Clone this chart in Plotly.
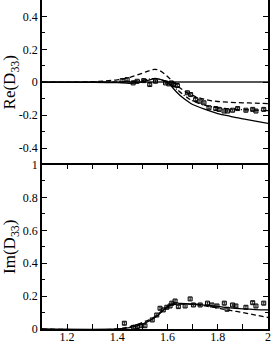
import plotly.graph_objects as go
from plotly.subplots import make_subplots

# ---- Top panel: Re(D33) ----
re_solid_x = [1.10, 1.30, 1.40, 1.45, 1.50, 1.53, 1.55, 1.57, 1.60, 1.63, 1.65, 1.68, 1.70, 1.75, 1.80, 1.85, 1.90, 1.95, 2.00]
re_solid_y = [0.0, 0.0, -0.002, -0.006, 0.002, 0.015, 0.024, 0.018, 0.0, -0.05, -0.08, -0.115, -0.135, -0.165, -0.19, -0.207, -0.222, -0.236, -0.25]

re_dash_x = [1.10, 1.30, 1.40, 1.45, 1.50, 1.53, 1.55, 1.57, 1.60, 1.63, 1.65, 1.68, 1.70, 1.75, 1.80, 1.85, 1.90, 1.95, 2.00]
re_dash_y = [0.0, 0.003, 0.015, 0.03, 0.055, 0.072, 0.078, 0.07, 0.035, -0.01, -0.035, -0.065, -0.08, -0.105, -0.117, -0.122, -0.125, -0.127, -0.13]

re_dd_x = [1.10, 1.30, 1.40, 1.45, 1.50, 1.53, 1.55, 1.57, 1.60, 1.63, 1.65, 1.68, 1.70, 1.75, 1.80, 1.85, 1.90, 1.95, 2.00]
re_dd_y = [0.0, 0.0, 0.002, 0.005, 0.012, 0.02, 0.022, 0.015, 0.002, -0.035, -0.06, -0.095, -0.113, -0.14, -0.155, -0.162, -0.167, -0.17, -0.172]

re_dat_x = [1.419, 1.439, 1.463, 1.479, 1.505, 1.529, 1.552, 1.592, 1.605, 1.615, 1.625, 1.639, 1.679, 1.692, 1.712, 1.729, 1.745, 1.765, 1.792, 1.805, 1.825, 1.839, 1.859, 1.879, 1.912, 1.939, 1.952, 1.983]
re_dat_y = [0.01, 0.016, -0.004, 0.006, 0.01, -0.014, 0.006, -0.004, -0.01, -0.004, -0.014, -0.02, -0.064, -0.075, -0.105, -0.115, -0.125, -0.155, -0.16, -0.165, -0.175, -0.175, -0.17, -0.16, -0.17, -0.165, -0.175, -0.165]
re_dat_err = [0.006] * 28

# ---- Bottom panel: Im(D33) ----
im_solid_x = [1.10, 1.40, 1.45, 1.50, 1.55, 1.58, 1.60, 1.63, 1.65, 1.70, 1.75, 1.80, 1.85, 1.90, 1.95, 2.00]
im_solid_y = [0.0, 0.0, 0.008, 0.03, 0.07, 0.11, 0.135, 0.158, 0.155, 0.152, 0.145, 0.137, 0.128, 0.122, 0.118, 0.116]

im_dash_x = [1.10, 1.40, 1.45, 1.50, 1.55, 1.58, 1.60, 1.63, 1.65, 1.70, 1.75, 1.80, 1.85, 1.90, 1.95, 2.00]
im_dash_y = [0.0, 0.0, 0.015, 0.04, 0.075, 0.115, 0.135, 0.15, 0.152, 0.15, 0.14, 0.128, 0.113, 0.1, 0.085, 0.07]

im_dat_x = [1.428, 1.465, 1.48, 1.495, 1.51, 1.539, 1.557, 1.57, 1.583, 1.597, 1.61, 1.617, 1.63, 1.643, 1.67, 1.69, 1.703, 1.73, 1.759, 1.777, 1.797, 1.826, 1.837, 1.859, 1.872, 1.912, 1.939, 1.952, 1.983]
im_dat_y = [0.035, 0.01, 0.015, 0.02, 0.02, 0.055, 0.085, 0.126, 0.116, 0.132, 0.14, 0.157, 0.17, 0.136, 0.14, 0.183, 0.146, 0.146, 0.157, 0.146, 0.14, 0.157, 0.12, 0.146, 0.14, 0.132, 0.16, 0.14, 0.157]
im_dat_err = [0.007] * 29

x_tickvals = [1.2, 1.4, 1.6, 1.8, 2.0]
x_ticktext = ["1.2", "1.4", "1.6", "1.8", "2"]
x_minor = [1.1, 1.3, 1.5, 1.7, 1.9]
re_tickvals = [-0.4, -0.2, 0, 0.2, 0.4]
re_ticktext = ["-0.4", "-0.2", "0", "0.2", "0.4"]
re_minor = [-0.3, -0.1, 0.1, 0.3]
im_tickvals = [0, 0.2, 0.4, 0.6, 0.8, 1.0]
im_ticktext = ["0", "0.2", "0.4", "0.6", "0.8", "1"]
im_minor = [0.1, 0.3, 0.5, 0.7, 0.9]

FONT = "Liberation Serif, Times New Roman, serif"

fig = make_subplots(rows=2, cols=1, shared_xaxes=True, vertical_spacing=0)

def add_lines(row, xs, ys, dash, width=1.3):
    fig.add_trace(go.Scatter(x=xs, y=ys, mode="lines", line=dict(color="black", width=width, dash=dash, shape="spline"),
                             showlegend=False, hoverinfo="skip"), row=row, col=1)

add_lines(1, re_solid_x, re_solid_y, "solid")
add_lines(1, re_dash_x, re_dash_y, "5px,3px")
add_lines(1, re_dd_x, re_dd_y, "5px,2px,1px,2px")
fig.add_trace(go.Scatter(x=re_dat_x, y=re_dat_y, mode="markers",
                         marker=dict(symbol="square-open", size=4, color="black", line=dict(width=1, color="black")),
                         error_y=dict(type="data", array=re_dat_err, color="black", thickness=0.8, width=1.5),
                         showlegend=False), row=1, col=1)

add_lines(2, im_solid_x, im_solid_y, "solid")
add_lines(2, im_dash_x, im_dash_y, "5px,3px")
fig.add_trace(go.Scatter(x=im_dat_x, y=im_dat_y, mode="markers",
                         marker=dict(symbol="square-open", size=4, color="black", line=dict(width=1, color="black")),
                         error_y=dict(type="data", array=im_dat_err, color="black", thickness=0.8, width=1.5),
                         showlegend=False), row=2, col=1)

axis_common = dict(showline=True, mirror="ticks", linecolor="black", linewidth=1.5, ticks="inside",
                   ticklen=5, tickwidth=1, tickcolor="black", showgrid=False, automargin=False,
                   tickfont=dict(family=FONT, size=12, color="black"))

fig.update_xaxes(range=[1.1, 2.0], tickvals=x_tickvals, ticktext=x_ticktext,
                 minor=dict(tickvals=x_minor, ticks="inside", ticklen=5, tickcolor="black", showgrid=False),
                 zeroline=False, ticklabelstandoff=-4, **axis_common)
fig.update_xaxes(showticklabels=False, showline=False, ticks="", minor_ticks="", row=1, col=1)

fig.update_yaxes(range=[-0.5, 0.5], tickvals=re_tickvals, ticktext=re_ticktext,
                 minor=dict(tickvals=re_minor, ticks="inside", ticklen=3, tickcolor="black", showgrid=False),
                 zeroline=True, zerolinecolor="#555555", zerolinewidth=1.5,
                 title=dict(text="Re(D<sub>33</sub>)", font=dict(family=FONT, size=17, color="black"), standoff=4),
                 row=1, col=1, **axis_common)
fig.update_yaxes(range=[0, 1.0], tickvals=im_tickvals, ticktext=im_ticktext,
                 minor=dict(tickvals=im_minor, ticks="inside", ticklen=3, tickcolor="black", showgrid=False),
                 zeroline=False,
                 title=dict(text="Im(D<sub>33</sub>)", font=dict(family=FONT, size=17, color="black"), standoff=4),
                 row=2, col=1, **axis_common)

fig.update_layout(width=273, height=344, margin=dict(l=42, r=5, t=0, b=15, autoexpand=False),
                  plot_bgcolor="white", paper_bgcolor="white", showlegend=False)

fig.write_html("out.html", config={"displayModeBar": False},
               post_script="document.body.style.margin='0';document.body.style.overflow='hidden';")
